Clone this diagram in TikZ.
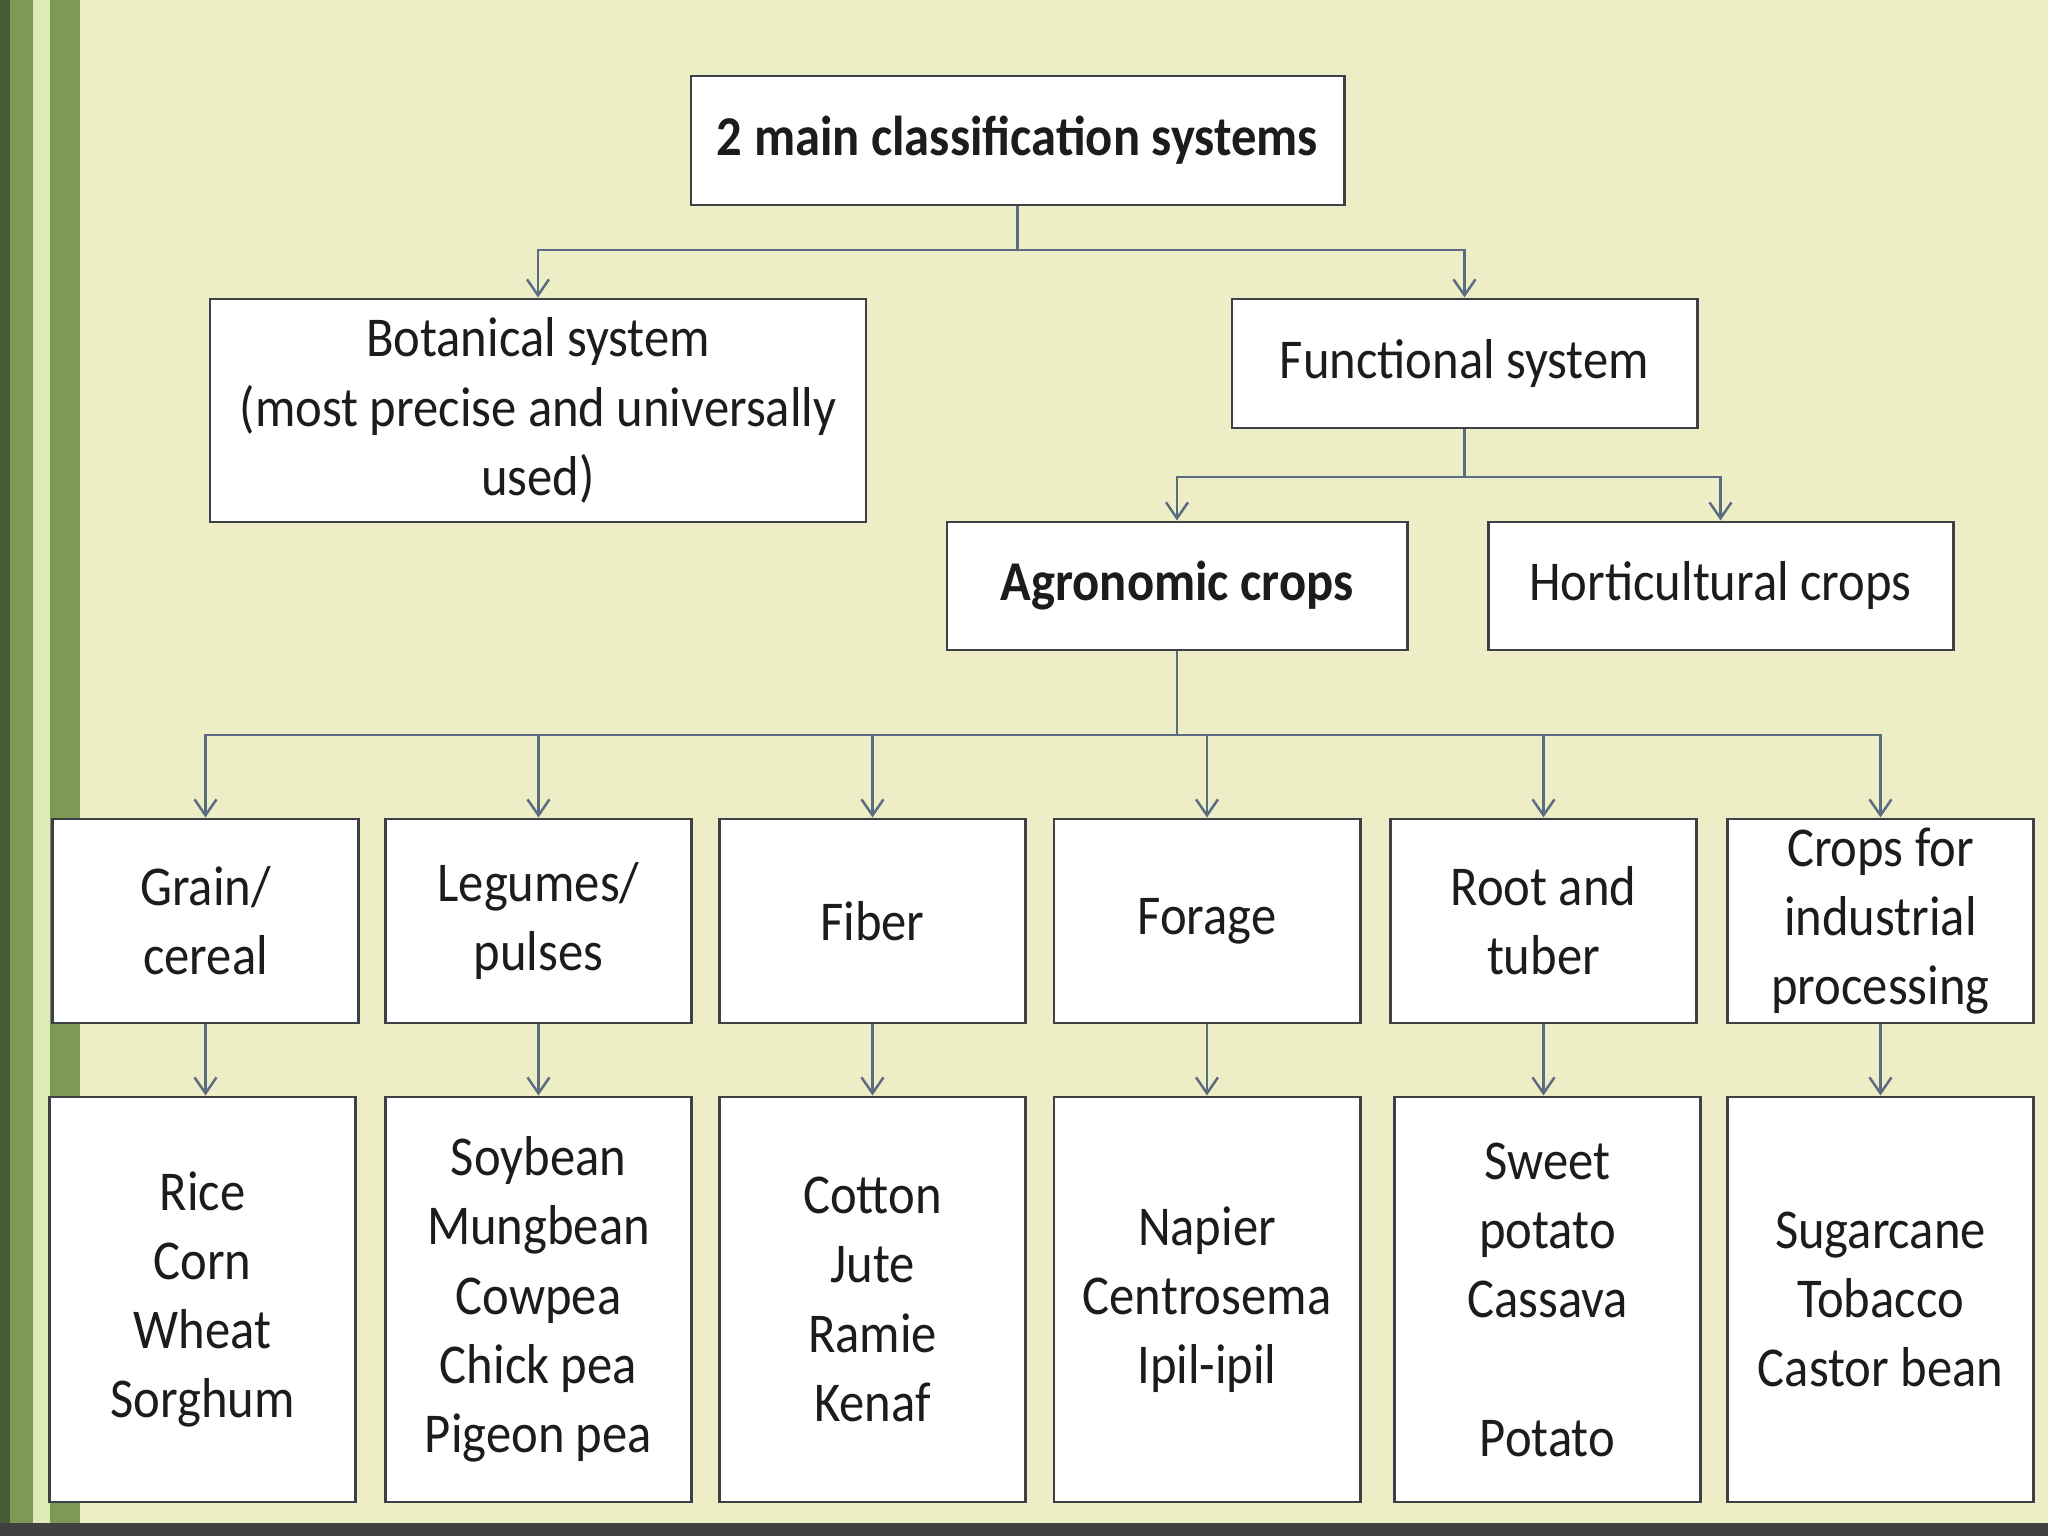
\documentclass[tikz,border=0pt]{standalone}
\usepackage{fontspec}
\setmainfont{Carlito}[FakeStretch=0.9]
\usepackage{tikz}
\usetikzlibrary{arrows.meta,positioning,calc}
\definecolor{paper}{RGB}{237,238,198}
\definecolor{leafdk}{RGB}{72,92,52}
\definecolor{leaf}{RGB}{126,152,86}
\definecolor{leaflt}{RGB}{222,234,184}
\definecolor{edge}{RGB}{62,64,72}
\definecolor{wire}{RGB}{92,108,128}
\definecolor{ink}{RGB}{28,28,28}

\begin{document}
\begin{tikzpicture}[
    >={Straight Barb[length=1.6mm,width=2.2mm]},
    font=\fontsize{16}{19.7}\selectfont, text=ink,
    box/.style={rectangle, draw=edge, line width=0.85pt, fill=white,
                align=center, inner xsep=2pt, inner ysep=0pt},
    arr/.style={->, line width=0.7pt, draw=wire},
  ]
    % backdrop
    \useasboundingbox (0,0) rectangle (20.48,-15.36);
    \fill[paper] (0,0) rectangle (20.48,-15.36);
    \fill[leafdk] (0,0) rectangle (0.10,-15.36);
    \fill[leaf] (0.10,0) rectangle (0.33,-15.36);
    \fill[leaflt] (0.33,0) rectangle (0.50,-15.36);
    \fill[leaf] (0.50,0) rectangle (0.80,-15.36);
    \fill[black!75] (0,-15.23) rectangle (20.48,-15.36);

    \node[box, minimum width=6.53cm, minimum height=1.29cm] (top) at (10.175,-1.405) {\textbf{2 main classification systems}};
    \node[box, minimum width=6.56cm, minimum height=2.23cm] (bot) at (5.38,-4.105) {Botanical system\\(most precise and universally\\used)};
    \node[box, minimum width=4.65cm, minimum height=1.29cm] (fun) at (14.645,-3.635) {Functional system};
    \node[box, minimum width=4.60cm, minimum height=1.28cm] (agr) at (11.77,-5.86) {\textbf{Agronomic crops}};
    \node[box, minimum width=4.65cm, minimum height=1.28cm] (hor) at (17.205,-5.86) {Horticultural crops};

    % crop groups
    \tikzset{grp/.style={box, minimum width=3.06cm, minimum height=2.04cm}}
    \node[grp] (c1) at (2.055,-9.21) {Grain/\\cereal};
    \node[grp] (c2) at (5.385,-9.21) {Legumes/\\pulses};
    \node[grp] (c3) at (8.725,-9.21) {Fiber};
    \node[grp] (c4) at (12.07,-9.21) {Forage};
    \node[grp] (c5) at (15.435,-9.21) {Root and\\tuber};
    \node[grp] (c6) at (18.805,-9.21) {Crops for\\industrial\\processing};

    % examples
    \tikzset{ex/.style={box, minimum width=3.06cm, minimum height=4.05cm}}
    \node[ex] (e1) at (2.025,-12.995) {Rice\\Corn\\Wheat\\Sorghum};
    \node[ex] (e2) at (5.385,-12.995) {Soybean\\Mungbean\\Cowpea\\Chick pea\\Pigeon pea};
    \node[ex] (e3) at (8.725,-12.995) {Cotton\\Jute\\Ramie\\Kenaf};
    \node[ex] (e4) at (12.07,-12.995) {Napier\\Centrosema\\Ipil-ipil};
    \node[ex] (e5) at (15.475,-12.995) {Sweet\\potato\\Cassava\\~\\Potato};
    \node[ex] (e6) at (18.805,-12.995) {Sugarcane\\Tobacco\\Castor bean};

    \coordinate (j1) at (10.175,-2.50);
    \coordinate (j2) at (14.645,-4.77);
    \coordinate (j3) at (11.77,-7.35);

    \draw[arr] (top.south) -- (j1) -| (bot.north);
    \draw[arr] (j1) -| (fun.north);
    \draw[arr] (fun.south) -- (j2) -| (agr.north);
    \draw[arr] (j2) -| (hor.north);
    \draw[line width=0.7pt, draw=wire] (agr.south) -- (j3);
    \foreach \i in {1,...,6} {
      \draw[arr] (j3) -| (c\i.north);
      \draw[arr] (c\i.south) -- (c\i.south |- e\i.north);
    }
  \end{tikzpicture}
\end{document}
